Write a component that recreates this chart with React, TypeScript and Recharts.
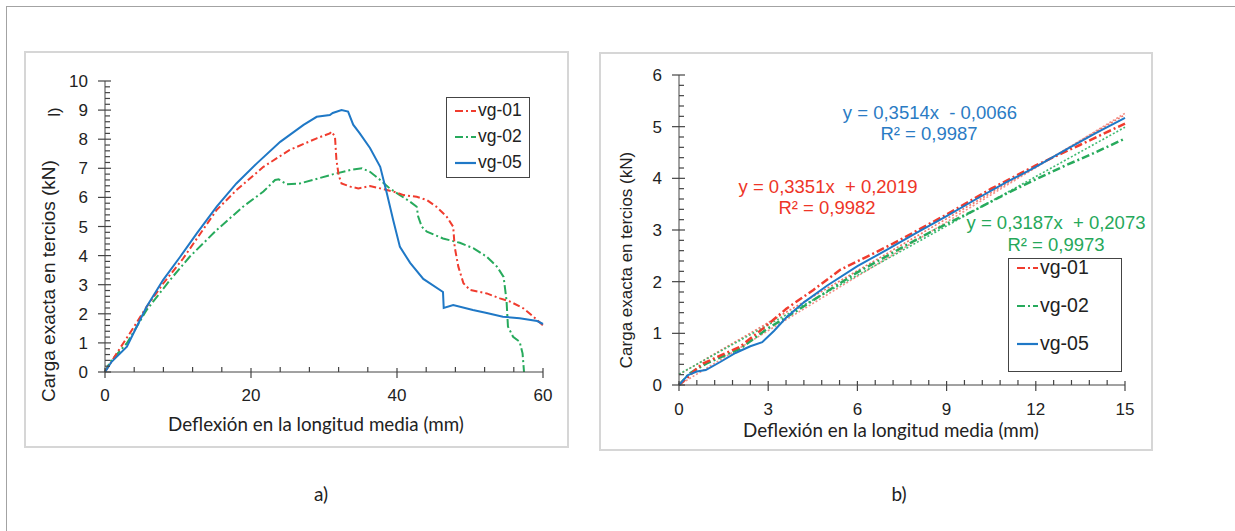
import React from 'react';
import { LineChart, Line, XAxis, YAxis } from 'recharts';

type Pt = { x: number; y: number };
const pts = (rows: number[][]): Pt[] => rows.map(([x, y]) => ({ x, y }));

// a) full load-deflection curves
const vg01Full = pts([
  [0, 0], [1.6, 0.64], [3.4, 1.33], [5.7, 2.24], [8, 3.05], [10.7, 3.9], [15.3, 5.57], [18, 6.25],
  [21.7, 7.05], [25.3, 7.63], [29, 8.03], [30.8, 8.2], [31, 8.26], [31.5, 8.1], [31.7, 7.3], [32, 6.77],
  [32.4, 6.48], [33.6, 6.37], [34.7, 6.31], [36.3, 6.39], [37.7, 6.31], [39.5, 6.2], [40.9, 6.08],
  [42.7, 6.02], [44.1, 5.91], [45.4, 5.68], [46.8, 5.34], [47.7, 4.99], [47.9, 4.3], [48.4, 3.62],
  [49.1, 3.05], [50, 2.82], [52.3, 2.7], [54.1, 2.53], [55.5, 2.42], [57.3, 2.19], [58.7, 1.9], [60, 1.6],
]);
const vg02Full = pts([
  [0, 0], [0.7, 0.35], [3, 0.99], [5.7, 2.13], [8.9, 3.16], [11.6, 3.96], [15.3, 4.88], [18.9, 5.68],
  [21.7, 6.2], [23.3, 6.6], [23.8, 6.62], [24.9, 6.45], [26.7, 6.48], [28.5, 6.6], [31.3, 6.8],
  [33.6, 6.94], [35.2, 7.0], [36.3, 6.88], [37.7, 6.6], [39, 6.31], [40.4, 6.08], [41.8, 5.85],
  [42.7, 5.68], [42.9, 5.34], [43.4, 4.99], [44.1, 4.82], [46.3, 4.59], [48.6, 4.44], [50.5, 4.25],
  [52.3, 3.96], [53.7, 3.62], [54.6, 3.27], [55, 2.47], [55.2, 1.56], [55.9, 1.21], [56.8, 1.04],
  [57.2, 0.64], [57.4, 0],
]);
const vg05Full = pts([
  [0, 0], [0.9, 0.35], [3, 0.87], [3.9, 1.33], [5.7, 2.24], [7.95, 3.16], [10.3, 3.96], [12.6, 4.77],
  [15.3, 5.68], [18, 6.48], [20.8, 7.17], [24, 7.91], [27.2, 8.49], [29, 8.77], [30.8, 8.83],
  [31.2, 8.9], [32.4, 9.0], [33.3, 8.95], [34, 8.5], [34.9, 8.2], [36.3, 7.7], [37.7, 7.05],
  [38.6, 6.15], [39.5, 5.2], [40.4, 4.3], [41.8, 3.75], [43.6, 3.2], [46.3, 2.75], [46.4, 2.2],
  [47.7, 2.3], [50.4, 2.13], [52.3, 2.03], [54.5, 1.9], [56.8, 1.85], [59.2, 1.75], [60, 1.65],
]);

// b) elastic range 0-15 mm
const vg01Lin = pts([
  [0, 0], [0.26, 0.13], [0.6, 0.32], [0.82, 0.42], [2.05, 0.74], [2.84, 1.1], [3.62, 1.48],
  [4.52, 1.84], [5.42, 2.23], [6.31, 2.48], [7.21, 2.74], [9, 3.3], [10.5, 3.8], [12, 4.25],
  [13.5, 4.65], [15, 5.06],
]);
const vg02Lin = pts([
  [0, 0], [0.37, 0.23], [0.93, 0.42], [2.05, 0.7], [2.95, 1.08], [4, 1.45], [5, 1.82], [6, 2.18],
  [7, 2.5], [8, 2.82], [9, 3.12], [10, 3.4], [11, 3.7], [12, 3.98], [13, 4.25], [14, 4.5], [15, 4.77],
]);
const vg05Lin = pts([
  [0, 0], [0.3, 0.19], [0.6, 0.26], [0.9, 0.29], [1.4, 0.45], [1.9, 0.62], [2.4, 0.75], [2.8, 0.83],
  [3.2, 1.05], [3.6, 1.3], [4.2, 1.6], [5, 1.93], [6, 2.3], [7, 2.62], [8, 2.95], [9, 3.27],
  [10, 3.6], [11, 3.92], [12, 4.22], [13, 4.55], [14, 4.87], [15, 5.17],
]);
// linear trend lines (end points)
const trend01 = pts([[0, 0.2], [15, 5.23]]);
const trend02 = pts([[0, 0.21], [15, 4.99]]);
const trend05 = pts([[0, 0], [15, 5.26]]);

const xMajorA = [0, 20, 40, 60];
const yMajorA = [0, 1, 2, 3, 4, 5, 6, 7, 8, 9, 10];
const xMajorB = [0, 3, 6, 9, 12, 15];
const yMajorB = [0, 1, 2, 3, 4, 5, 6];

const steps = (max: number, step: number) => {
  const out: number[] = [];
  for (let i = 0; i * step <= max + 1e-9; i++) out.push(Math.round(i * step * 100) / 100);
  return out;
};

const RED = '#f03c2e';
const GREEN = '#27aa5c';
const BLUE = '#1f78c6';
const AXIS = '#444';
const NUM_FONT = '"Liberation Sans", Arial, sans-serif';
const TITLE_FONT = 'Lato, "Open Sans", sans-serif';

const isMajor = (majors: number[], v: number) => majors.some((m) => Math.abs(m - v) < 1e-6);

const makeXTick = (majors: number[], dy: number) => (props: any) => {
  const { x, y, payload } = props;
  const v = payload.value;
  if (!isMajor(majors, v)) return <line x1={x} x2={x} y1={y} y2={y - 5} stroke={AXIS} strokeWidth={1.2} />;
  return (
    <g>
      <line x1={x} x2={x} y1={y - 4} y2={y + 6} stroke={AXIS} strokeWidth={1.2} />
      <text x={x} y={y + dy} textAnchor="middle" fontFamily={NUM_FONT} fontSize={17} fill="#222">
        {v}
      </text>
    </g>
  );
};

const makeYTick = (majors: number[]) => (props: any) => {
  const { x, y, payload } = props;
  const v = payload.value;
  if (!isMajor(majors, v)) return <line x1={x} x2={x + 5} y1={y} y2={y} stroke={AXIS} strokeWidth={1.2} />;
  return (
    <g>
      <line x1={x - 7} x2={x + 6} y1={y} y2={y} stroke={AXIS} strokeWidth={1.2} />
      <text x={x - 17} y={y + 6} textAnchor="end" fontFamily={NUM_FONT} fontSize={17} fill="#222">
        {v}
      </text>
    </g>
  );
};

const abs = (left: number, top: number): React.CSSProperties => ({ position: 'absolute', left, top });

const Centered = ({ x, y, children, style }: { x: number; y: number; children: React.ReactNode; style?: React.CSSProperties }) => (
  <div style={{ ...abs(x, y), transform: 'translate(-50%, -50%)', whiteSpace: 'pre', lineHeight: 1, ...style }}>
    {children}
  </div>
);

const VTitle = ({ x, y, text, size }: { x: number; y: number; text: string; size: number }) => (
  <div
    style={{
      ...abs(x, y),
      transform: 'translate(-50%, -50%) rotate(-90deg)',
      whiteSpace: 'nowrap',
      fontFamily: NUM_FONT,
      fontSize: size,
      color: '#222',
      lineHeight: 1,
    }}
  >
    {text}
  </div>
);

type LegendItem = { name: string; color: string; dash?: string };
const legendItems: LegendItem[] = [
  { name: 'vg-01', color: RED, dash: '8 3 2 3' },
  { name: 'vg-02', color: GREEN, dash: '8 3 2 3' },
  { name: 'vg-05', color: BLUE },
];

const LegendBox = ({ left, top, width, height, rows, size }: { left: number; top: number; width: number; height: number; rows: number[]; size: number }) => (
  <div style={{ ...abs(left, top), width, height, border: '1.5px solid #444', boxSizing: 'border-box', background: '#fff' }}>
    {legendItems.map((it, i) => (
      <div key={it.name} style={{ position: 'absolute', left: 8, top: rows[i] - top - 10, display: 'flex', alignItems: 'center', height: 20 }}>
        <svg width={22} height={10}>
          <line x1={0} x2={21} y1={5} y2={5} stroke={it.color} strokeWidth={2.2} strokeDasharray={it.dash} />
        </svg>
        <span style={{ fontFamily: NUM_FONT, fontSize: size, color: '#222', marginLeft: 1, lineHeight: 1 }}>{it.name}</span>
      </div>
    ))}
  </div>
);

const eqStyle = (color: string): React.CSSProperties => ({ fontFamily: NUM_FONT, fontSize: 18.5, color });

export default function App() {
  return (
    <div style={{ position: 'absolute', left: 0, top: 0, width: 1235, height: 531, background: '#fff', overflow: 'hidden' }}>
      <div style={{ ...abs(6, 6), width: 1240, height: 540, borderTop: '1.5px solid #a3a3a3', borderLeft: '1.5px solid #a3a3a3' }} />

      {/* panel a */}
      <div style={{ ...abs(24, 51), width: 545, height: 397, border: '2px solid #d6d6d6', boxSizing: 'border-box' }} />
      <div style={abs(25, 52)}>
        <LineChart width={544} height={396} margin={{ top: 29, right: 26, left: 20, bottom: 46 }}>
          <XAxis
            dataKey="x"
            type="number"
            domain={[0, 60]}
            ticks={steps(60, 4)}
            interval={0}
            height={30}
            stroke={AXIS}
            tickLine={false}
            tickSize={0}
            tickMargin={0}
            tick={makeXTick(xMajorA, 29)}
          />
          <YAxis
            type="number"
            domain={[0, 10]}
            ticks={steps(10, 0.2)}
            interval={0}
            width={60}
            stroke={AXIS}
            tickLine={false}
            tickSize={0}
            tickMargin={0}
            tick={makeYTick(yMajorA)}
          />
          <Line data={vg02Full} dataKey="y" stroke={GREEN} strokeWidth={2} strokeDasharray="9 3 2 3" dot={false} isAnimationActive={false} />
          <Line data={vg01Full} dataKey="y" stroke={RED} strokeWidth={2} strokeDasharray="7 3 2 3" dot={false} isAnimationActive={false} />
          <Line data={vg05Full} dataKey="y" stroke={BLUE} strokeWidth={2} dot={false} isAnimationActive={false} />
        </LineChart>
      </div>
      <VTitle x={48} y={281} size={19} text="Carga exacta en tercios (kN)" />
      <VTitle x={54} y={112} size={17} text="l)" />
      <Centered x={316} y={424} style={{ fontFamily: TITLE_FONT, fontSize: 18.8, color: '#222' }}>
        Deflexión en la longitud media (mm)
      </Centered>
      <LegendBox left={446} top={97} width={84} height={81} rows={[110, 136, 162]} size={17.5} />

      {/* panel b */}
      <div style={{ ...abs(599, 52), width: 554, height: 399, border: '2px solid #d6d6d6', boxSizing: 'border-box' }} />
      <div style={abs(600, 53)}>
        <LineChart width={552} height={397} margin={{ top: 22, right: 27, left: 19, bottom: 35 }}>
          <XAxis
            dataKey="x"
            type="number"
            domain={[0, 15]}
            ticks={steps(15, 0.6)}
            interval={0}
            height={30}
            stroke={AXIS}
            tickLine={false}
            tickSize={0}
            tickMargin={0}
            tick={makeXTick(xMajorB, 30)}
          />
          <YAxis
            type="number"
            domain={[0, 6]}
            ticks={steps(6, 0.2)}
            interval={0}
            width={60}
            stroke={AXIS}
            tickLine={false}
            tickSize={0}
            tickMargin={0}
            tick={makeYTick(yMajorB)}
          />
          <Line data={trend05} dataKey="y" stroke="#f29088" strokeWidth={1.6} strokeDasharray="2 2" dot={false} isAnimationActive={false} />
          <Line data={trend01} dataKey="y" stroke="#f07468" strokeWidth={1.6} strokeDasharray="2 2" dot={false} isAnimationActive={false} />
          <Line data={trend02} dataKey="y" stroke="#3fbb72" strokeWidth={1.6} strokeDasharray="2 2" dot={false} isAnimationActive={false} />
          <Line data={vg02Lin} dataKey="y" stroke={GREEN} strokeWidth={2.5} strokeDasharray="8 3 2 3" dot={false} isAnimationActive={false} />
          <Line data={vg01Lin} dataKey="y" stroke={RED} strokeWidth={2.5} strokeDasharray="8 3 2 3" dot={false} isAnimationActive={false} />
          <Line data={vg05Lin} dataKey="y" stroke={BLUE} strokeWidth={2} dot={false} isAnimationActive={false} />
        </LineChart>
      </div>
      <VTitle x={626} y={260} size={17} text="Carga exacta en tercios (kN)" />
      <Centered x={891} y={430} style={{ fontFamily: TITLE_FONT, fontSize: 18.8, color: '#222' }}>
        Deflexión en la longitud media (mm)
      </Centered>
      <Centered x={930} y={113} style={eqStyle('#2a7bc4')}>{'y = 0,3514x  - 0,0066'}</Centered>
      <Centered x={929} y={134} style={eqStyle('#2a7bc4')}>R² = 0,9987</Centered>
      <Centered x={828} y={187} style={eqStyle('#ee3527')}>{'y = 0,3351x  + 0,2019'}</Centered>
      <Centered x={827} y={208} style={eqStyle('#ee3527')}>R² = 0,9982</Centered>
      <Centered x={1056} y={223} style={eqStyle('#25a85a')}>{'y = 0,3187x  + 0,2073'}</Centered>
      <Centered x={1056} y={245} style={eqStyle('#25a85a')}>R² = 0,9973</Centered>
      <LegendBox left={1008} top={258} width={114} height={114} rows={[267, 305, 343]} size={19.5} />

      <Centered x={321} y={493} style={{ fontFamily: TITLE_FONT, fontSize: 19, color: '#222' }}>a)</Centered>
      <Centered x={899} y={493} style={{ fontFamily: TITLE_FONT, fontSize: 19, color: '#222' }}>b)</Centered>
    </div>
  );
}
